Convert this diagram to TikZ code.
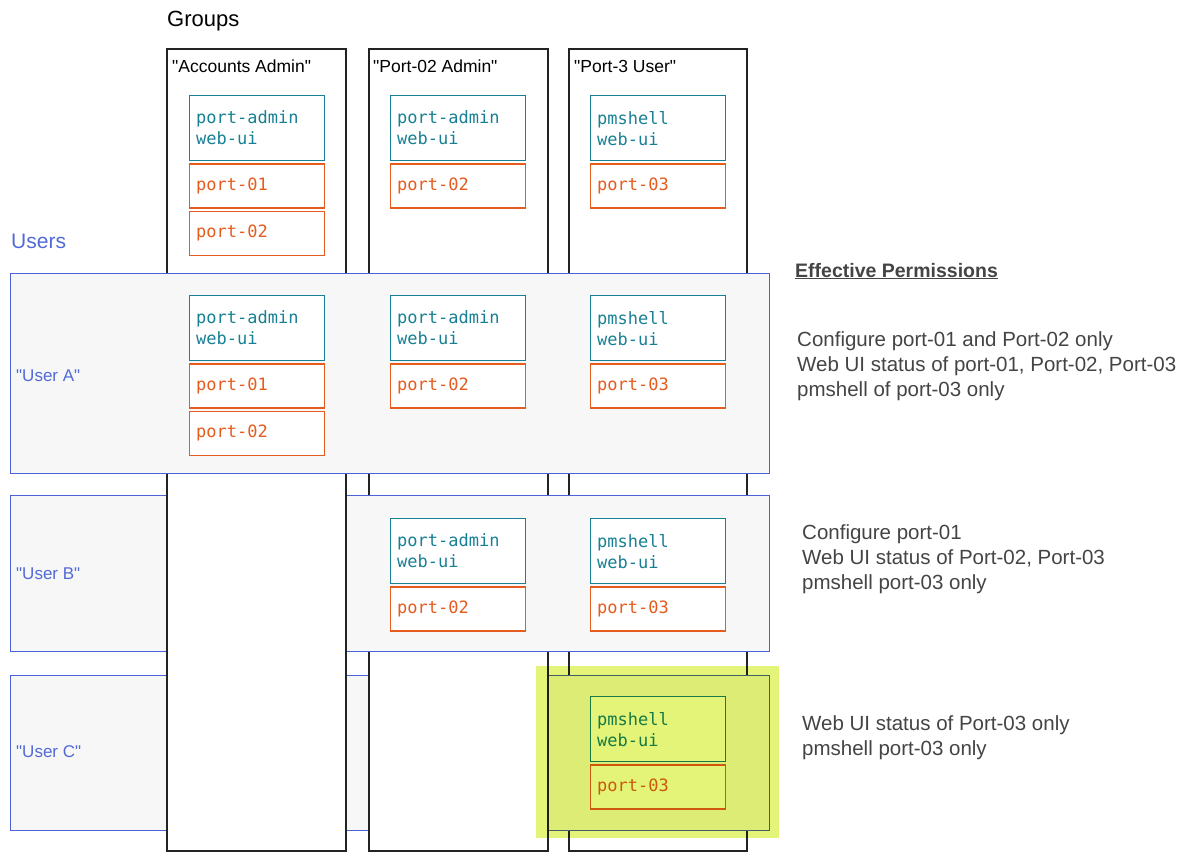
\documentclass[tikz,border=0pt]{standalone}
\usepackage{fontspec}
\setmainfont{Liberation Sans}
\newfontfamily\permmono{DejaVu Sans Mono}
\definecolor{ink}{RGB}{35, 35, 35}
\definecolor{usrblue}{RGB}{78, 98, 216}
\definecolor{usrlabel}{RGB}{82, 106, 214}
\definecolor{usrfill}{RGB}{247, 247, 247}
\definecolor{permteal}{RGB}{24, 128, 148}
\definecolor{portorange}{RGB}{230, 92, 30}
\definecolor{notegray}{RGB}{68, 68, 68}
\definecolor{hilite}{RGB}{228, 244, 120}
\usetikzlibrary{positioning}
\newcommand{\qt}[1]{\textquotedbl#1\textquotedbl}

\begin{document}
\begin{tikzpicture}[x=1pt, y=-1pt,
    grp/.style={draw=ink, line width=1.5pt, fill=white, anchor=north west, inner sep=0pt, minimum height=802pt},
    usr/.style={draw=usrblue, line width=1.3pt, fill=usrfill, anchor=north west, inner sep=0pt, minimum width=759pt},
    grptitle/.style={anchor=base west, inner sep=0pt, font=\fontsize{17.5}{20}\selectfont},
    usrname/.style={anchor=base west, inner sep=0pt, text=usrlabel, font=\fontsize{17}{20}\selectfont},
    perm/.style={draw=permteal, text=permteal, line width=1.3pt, fill=white, anchor=north west, text width=122pt, inner xsep=6.5pt, inner ysep=0pt, minimum height=65pt, align=left, font=\permmono\fontsize{17}{21}\selectfont},
    port/.style={perm, draw=portorange, text=portorange, minimum height=44pt, below=2pt of #1},
    note/.style={anchor=west, align=left, inner sep=0pt, text=notegray, font=\fontsize{20.5}{25}\selectfont}
]
\useasboundingbox (0,0) rectangle (1187,852);

% groups and users, stacked so that they hide one another
\node[grp, minimum width=178pt] (col3) at (568,48) {};
\node[usr, minimum height=155pt] (userC) at (10,675) {};
\node[grp, minimum width=179pt] (col2) at (368,48) {};
\node[usr, minimum height=156pt] (userB) at (10,495) {};
\node[grp, minimum width=179pt] (col1) at (166,48) {};
\node[usr, minimum height=200pt] (userA) at (10,273) {};

\node[anchor=base west, inner sep=0pt, font=\fontsize{22}{26}\selectfont] (groups) at (167,26) {Groups};
\node[anchor=base west, inner sep=0pt, text=usrlabel, font=\fontsize{21}{25}\selectfont] (users) at (11,248) {Users};

\node[grptitle] (t1) at (172,72) {\qt{Accounts Admin}};
\node[grptitle] (t2) at (373,72) {\qt{Port-02 Admin}};
\node[grptitle] (t3) at (574,72) {\qt{Port-3 User}};

\node[usrname] (nA) at (16,381) {\qt{User A}};
\node[usrname] (nB) at (16,579) {\qt{User B}};
\node[usrname] (nC) at (16,757) {\qt{User C}};

% group permissions
\node[perm] (g1) at (189,95) {port-admin\\web-ui};
\node[port=g1] (g1a) {port-01};
\node[port=g1a] (g1b) {port-02};
\node[perm] (g2) at (390,95) {port-admin\\web-ui};
\node[port=g2] (g2a) {port-02};
\node[perm] (g3) at (590,95) {pmshell\\web-ui};
\node[port=g3] (g3a) {port-03};

% user A
\node[perm] (a1) at (189,295) {port-admin\\web-ui};
\node[port=a1] (a1a) {port-01};
\node[port=a1a] (a1b) {port-02};
\node[perm] (a2) at (390,295) {port-admin\\web-ui};
\node[port=a2] (a2a) {port-02};
\node[perm] (a3) at (590,295) {pmshell\\web-ui};
\node[port=a3] (a3a) {port-03};

% user B
\node[perm] (b2) at (390,518) {port-admin\\web-ui};
\node[port=b2] (b2a) {port-02};
\node[perm] (b3) at (590,518) {pmshell\\web-ui};
\node[port=b3] (b3a) {port-03};

% user C
\node[perm] (c3) at (590,696) {pmshell\\web-ui};
\node[port=c3] (c3a) {port-03};

\begin{scope}[blend mode=multiply]
  \fill[hilite] (536,666) rectangle (779,838);
\end{scope}

% effective permissions
\node[anchor=base west, inner sep=0pt, text=notegray, font=\bfseries\fontsize{19.5}{24}\selectfont] (eff) at (795,277) {\underline{Effective Permissions}};
\node[note] (effA) at (797,366) {Configure port-01 and Port-02 only\\Web UI status of port-01, Port-02, Port-03\\pmshell of port-03 only};
\node[note] (effB) at (802,559) {Configure port-01\\Web UI status of Port-02, Port-03\\pmshell port-03 only};
\node[note] (effC) at (802,738) {Web UI status of Port-03 only\\pmshell port-03 only};
\end{tikzpicture}
\end{document}
